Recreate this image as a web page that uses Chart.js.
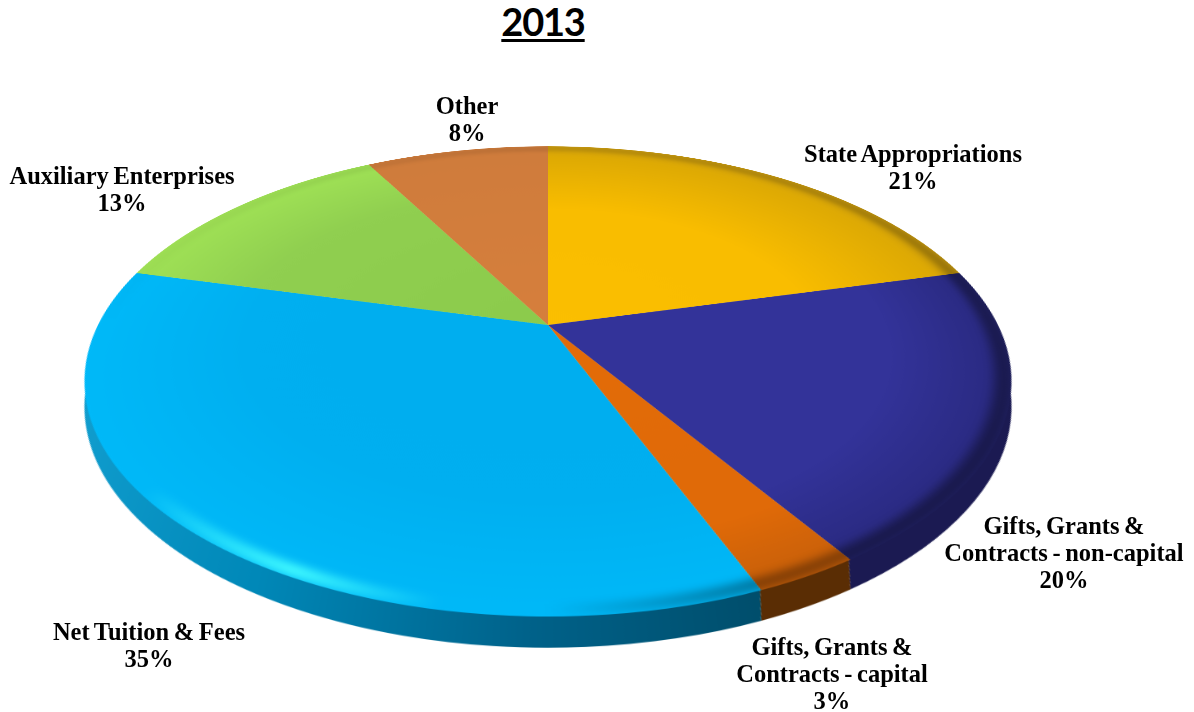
<!DOCTYPE html>
<html>
<head>
<meta charset="utf-8">
<title>2013</title>
<script src="https://cdn.jsdelivr.net/npm/chart.js@4"></script>
<style>
    html, body { margin: 0; padding: 0; background: #fff; }
    #stage { position: relative; width: 1194px; height: 712px; overflow: hidden; }
    #pie-wrap {
        position: absolute; left: 48px; top: -175px; width: 1000px; height: 1000px;
        transform: perspective(1633px) rotateX(60.5deg);
        transform-origin: 50% 50%;
    }
    h1 {
        position: absolute; left: 543px; top: -2px; margin: 0; transform: translateX(-50%);
        font: bold 38px Lato, sans-serif; letter-spacing: -1.2px; color: #000; text-decoration: underline;
        text-underline-offset: 3px; text-decoration-thickness: 3px;
    }
    .slice-label {
        position: absolute; transform: translateX(-50%); text-align: center; white-space: nowrap;
        font: bold 24.5px/27px "Liberation Serif", serif; color: #000; word-spacing: -1.5px;
    }
</style>
</head>
<body>
<div id="stage">
    <h1>2013</h1>
    <div id="pie-wrap"><canvas id="pie" width="1000" height="1000" style="width:1000px;height:1000px"></canvas></div>
</div>
<script>
const categories = [
    ['State Appropriations'],
    ['Gifts, Grants &', 'Contracts - non-capital'],
    ['Gifts, Grants &', 'Contracts - capital'],
    ['Net Tuition & Fees'],
    ['Auxiliary Enterprises'],
    ['Other']
];
const shares = [21, 20, 3, 35, 13, 8];

// radial colour stops for the top face of each slice
const faceStops = [
    [[0, '#fbbf00'], [0.6, '#f9bd00'], [0.93, '#deaa04'], [1, '#cb9c10']],
    [[0, '#333399'], [0.75, '#333399'], [0.95, '#2b2b84'], [1, '#232368']],
    [[0, '#e36c09'], [0.8, '#e06a08'], [1, '#c65f0a']],
    [[0, '#00aeef'], [0.65, '#00aff0'], [1, '#00b9f8']],
    [[0, '#8ccb4c'], [0.7, '#90cf50'], [1, '#a0e256']],
    [[0, '#d67f3c'], [1, '#cf7c3c']]
];
// side wall colours, left to right across the canvas
const rimStops = [
    ['#b08a08', '#a07e08'],
    ['#17163f', '#1b1a52'],
    ['#5a2d04', '#5a2d04'],
    ['#129fd0', '#0088b8', '#00628a', '#004a66'],
    ['#7aa83f', '#7aa83f'],
    ['#a8642e', '#a8642e']
];
const labelSpots = [[913, 140], [1064, 512], [832, 633], [149, 618], [122, 162], [467, 92]];

const TOTAL = shares.reduce((a, b) => a + b, 0);
const stage = document.getElementById('stage');
categories.forEach((lines, i) => {
    const el = document.createElement('div');
    el.className = 'slice-label';
    el.style.left = labelSpots[i][0] + 'px';
    el.style.top = labelSpots[i][1] + 'px';
    el.innerHTML = lines.concat(Math.round(shares[i] / TOTAL * 100) + '%')
        .map(l => l.replace('&', '&amp;')).join('<br>');
    stage.appendChild(el);
});

function faceColor(context) {
    const { chart, dataIndex } = context;
    const area = chart.chartArea;
    if (!area) return faceStops[dataIndex][0][1];
    const cx = (area.left + area.right) / 2;
    const cy = (area.top + area.bottom) / 2;
    const r = Math.min(area.width, area.height) / 2;
    const g = chart.ctx.createRadialGradient(cx, cy, 0, cx, cy, r);
    faceStops[dataIndex].forEach(s => g.addColorStop(s[0], s[1]));
    return g;
}

// side wall: a band from each slice's outer edge to the same arc pushed back along
// the plane. shrinking the far arc keeps the wall inside the width of the top face
const rimPlugin = {
    id: 'rim',
    beforeDatasetsDraw(chart) {
        const ctx = chart.ctx;
        ctx.save();
        chart.getDatasetMeta(0).data.forEach((arc, i) => {
            const r = arc.outerRadius * 0.975;
            const g = ctx.createLinearGradient(arc.x - r, 0, arc.x + r * 0.45, 0);
            rimStops[i].forEach((c, n) => g.addColorStop(n / (rimStops[i].length - 1), c));
            ctx.fillStyle = g;
            ctx.beginPath();
            ctx.arc(arc.x, arc.y, arc.outerRadius - 2, arc.startAngle, arc.endAngle);
            ctx.arc(arc.x, arc.y + 47, r, arc.endAngle, arc.startAngle, true);
            ctx.closePath();
            ctx.fill();
        });
        ctx.restore();
    }
};

// soft bevel along the outer edge, dark on the right and a bright streak front left
const bevelPlugin = {
    id: 'bevel',
    afterDatasetsDraw(chart) {
        const ctx = chart.ctx;
        const arc = chart.getDatasetMeta(0).data[0];
        const r = arc.outerRadius;
        const g = ctx.createConicGradient(-Math.PI / 2, arc.x, arc.y);
        g.addColorStop(0, 'rgba(0,0,0,0.10)');
        g.addColorStop(0.12, 'rgba(0,0,0,0.18)');
        g.addColorStop(0.22, 'rgba(0,0,0,0.30)');
        g.addColorStop(0.33, 'rgba(0,0,0,0.35)');
        g.addColorStop(0.44, 'rgba(0,0,0,0.35)');
        g.addColorStop(0.5, 'rgba(0,0,0,0)');
        g.addColorStop(0.53, 'rgba(70,255,255,0)');
        g.addColorStop(0.575, 'rgba(70,255,255,0.95)');
        g.addColorStop(0.64, 'rgba(70,255,255,0)');
        g.addColorStop(0.75, 'rgba(0,0,0,0)');
        g.addColorStop(1, 'rgba(0,0,0,0.10)');
        ctx.save();
        ctx.beginPath();
        ctx.arc(arc.x, arc.y, r, 0, Math.PI * 2);
        ctx.clip();
        ctx.filter = 'blur(10px)';
        ctx.strokeStyle = g;
        ctx.lineWidth = 14;
        ctx.beginPath();
        ctx.arc(arc.x, arc.y, r - 8, 0, Math.PI * 2);
        ctx.stroke();
        ctx.restore();
    }
};

new Chart(document.getElementById('pie'), {
    type: 'pie',
    data: {
        labels: categories.map(c => c.join(' ')),
        datasets: [{
            data: shares,
            backgroundColor: faceColor,
            borderWidth: 0
        }]
    },
    options: {
        responsive: false,
        animation: false,
        devicePixelRatio: 2,
        layout: { padding: 50 },
        plugins: { legend: { display: false }, tooltip: { enabled: false } }
    },
    plugins: [rimPlugin, bevelPlugin]
});
</script>
</body>
</html>
